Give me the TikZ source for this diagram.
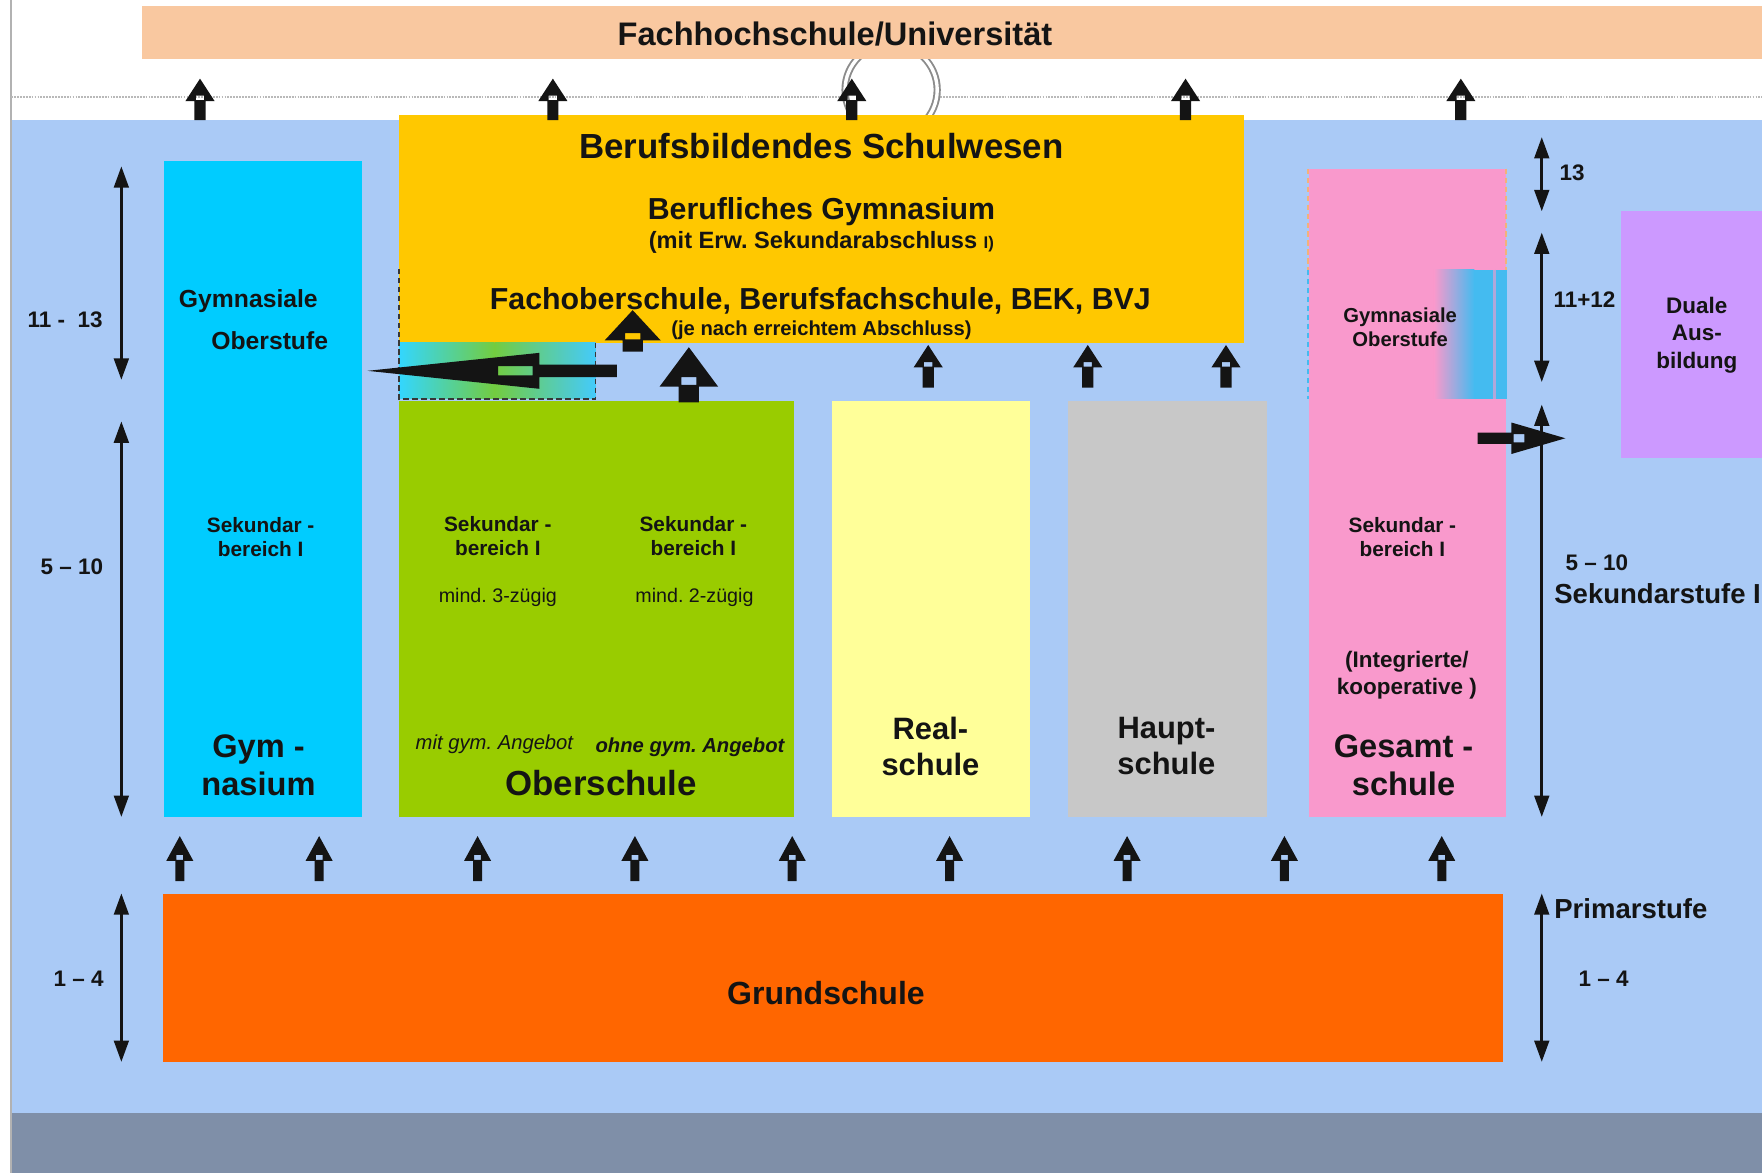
\documentclass[tikz,border=0pt]{standalone}
\usepackage{fontspec}
\setmainfont{Liberation Sans}
\usepackage{tikz}
\usetikzlibrary{arrows.meta, positioning, calc}
\frenchspacing
\definecolor{skyblue}{HTML}{AACAF6}
\definecolor{slateband}{HTML}{7F8FA8}
\definecolor{peach}{HTML}{F9C8A0}
\definecolor{bbsyellow}{HTML}{FFC800}
\definecolor{gymcyan}{HTML}{00CCFF}
\definecolor{obgreen}{HTML}{99CC00}
\definecolor{realyellow}{HTML}{FFFF99}
\definecolor{hauptgray}{HTML}{C8C8C8}
\definecolor{gspink}{HTML}{F999CC}
\definecolor{dualpurple}{HTML}{CC99FF}
\definecolor{grundorange}{HTML}{FF6600}
\definecolor{stripecyan}{HTML}{44BBF0}
\definecolor{dashorange}{HTML}{F2B27A}
\definecolor{inkblack}{HTML}{141414}

\begin{document}
\begin{tikzpicture}[
  x=1pt, y=-1pt,
  schoolbox/.style={rectangle, draw=none, fill=#1, inner sep=0pt, anchor=north west},
  txt/.style n args={2}{font=\fontsize{#1}{#2}\selectfont\bfseries, text=inkblack, inner sep=0pt, align=center},
  stufe/.style={{Triangle[width=13pt,length=19pt]}-{Triangle[width=13pt,length=19pt]}, line width=2.6pt, color=inkblack},
  pics/blkarrow/.style n args={4}{code={
    \fill[inkblack, even odd rule] (0,0) -- (#1,#2) -- (#3,#2) -- (#3,#4) -- (-#3,#4) -- (-#3,#2) -- (-#1,#2) -- cycle
      ({-0.75*#3},{0.76*#2}) rectangle ({0.75*#3},{0.96*#2});
  }}
]
  % Page, background and top strip
  \useasboundingbox (0,0) rectangle (1568,1044);
  \fill[white] (0,0) rectangle (1568,1044);
  \fill[skyblue] (10,107) rectangle (1568,990);
  \fill[slateband] (10,990) rectangle (1568,1044);
  \draw[gray!60, line width=1.5pt] (10,0) -- (10,1044);
  \draw[gray!55, densely dotted, line width=1.6pt] (10,86) -- (1568,86);
  \draw[gray!90, line width=1.7pt, double=white, double distance=3pt, fill=white] (793,80) circle (41pt);

  % School boxes
  \node[schoolbox=peach, minimum width=1442pt, minimum height=47pt] (uni) at (126,5) {};
  \node[schoolbox=bbsyellow, minimum width=752pt, minimum height=203pt] (bbs) at (355,102) {};
  \node[schoolbox=gymcyan, minimum width=176pt, minimum height=213pt] (gymober) at (146,143) {};
  \node[schoolbox=gymcyan, minimum width=176pt, minimum height=371pt] (gym) at (146,356) {};
  \node[schoolbox=obgreen, minimum width=351pt, minimum height=370pt] (ober) at (355,357) {};
  \node[schoolbox=realyellow, minimum width=176pt, minimum height=370pt] (real) at (740,357) {};
  \node[schoolbox=hauptgray, minimum width=177pt, minimum height=370pt] (haupt) at (950,357) {};
  \node[schoolbox=gspink, minimum width=175pt, minimum height=206pt] (gsober) at (1165,150) {};
  \node[schoolbox=gspink, minimum width=175pt, minimum height=371pt] (gesamt) at (1165,356) {};
  \node[schoolbox=dualpurple, minimum width=126pt, minimum height=219pt] (dual) at (1442,188) {};
  \node[schoolbox=grundorange, minimum width=1192pt, minimum height=150pt] (grund) at (145,795) {};

  % Transition zones
  \shade[left color=gymcyan!80!white, right color=obgreen!75!gymcyan] (355,305) rectangle (440,355);
  \shade[left color=obgreen!75!gymcyan, right color=gymcyan!60!skyblue] (440,305) rectangle (530,355);
  \draw[inkblack!85, dash pattern=on 5pt off 3pt, line width=1.3pt] (530,305) -- (530,355) -- (355,355) -- (355,237);
  \shade[left color=gspink, right color=stripecyan] (1276,240) rectangle (1312,355);
  \fill[stripecyan] (1312,240) rectangle (1341,355);
  \draw[gspink!60!stripecyan, line width=2pt] (1330,240) -- (1330,355);
  \draw[dashorange, dash pattern=on 5pt off 3pt, line width=1.5pt] (1164,150) -- (1164,240);
  \draw[stripecyan, dash pattern=on 5pt off 3pt, line width=1.5pt] (1164,240) -- (1164,355);
  \draw[dashorange, dash pattern=on 5pt off 3pt, line width=1.5pt] (1340,150) -- (1340,240);

  % Labels
  \node[txt={29}{31}] (unitxt) at (743,30) {Fachhochschule/Universität};
  \node[txt={31}{33}] (bbstxt) at (731,130) {Berufsbildendes Schulwesen};
  \node[txt={27}{29}] (bgymtxt) at (731,188) {Berufliches Gymnasium};
  \node[txt={21}{23}] (erwtxt) at (731,216) {(mit Erw. Sekundarabschluss {\fontsize{15}{15}\selectfont I)}};
  \node[txt={27}{29}] (fostxt) at (730,268) {Fachoberschule, Berufsfachschule, BEK, BVJ};
  \node[txt={18}{20}] (jetxt) at (731,294) {(je nach erreichtem Abschluss)};

  \node[txt={22}{24}] (gymo1) at (221,268) {Gymnasiale};
  \node[txt={22}{24}] (gymo2) at (240,303) {Oberstufe};
  \node[txt={18.5}{22}] (gymsek) at (232,478) {Sekundar -\\bereich I};
  \node[txt={29}{34}] (gymname) at (230,681) {Gym -\\nasium};

  \node[txt={18.5}{22}] (obsek1) at (443,477) {Sekundar -\\bereich I};
  \node[txt={18.5}{22}] (obsek2) at (617,477) {Sekundar -\\bereich I};
  \node[txt={17.5}{20}] (obmind1) at (443,532) {\mdseries mind. 3-zügig};
  \node[txt={17.5}{20}] (obmind2) at (618,532) {\mdseries mind. 2-zügig};
  \node[txt={18}{20}] (obmit) at (440,662) {\mdseries\itshape mit gym. Angebot};
  \node[txt={18}{20}] (obohne) at (614,665) {\itshape ohne gym. Angebot};
  \node[txt={31}{33}] (obname) at (535,697) {Oberschule};

  \node[txt={27.5}{32}] (realtxt) at (828,664) {Real-\\schule};
  \node[txt={27.5}{32}] (haupttxt) at (1038,664) {Haupt-\\schule};

  \node[txt={18}{21}] (gsobertxt) at (1246,291) {Gymnasiale\\Oberstufe};
  \node[txt={18.5}{22}] (gssek) at (1248,478) {Sekundar -\\bereich I};
  \node[txt={20}{24}] (gsart) at (1252,601) {(Integrierte/\\kooperative )};
  \node[txt={29}{34}] (gsname) at (1249,681) {Gesamt -\\schule};

  \node[txt={20}{24.5}] (dualtxt) at (1510,298) {Duale\\Aus-\\bildung};
  \node[txt={28.5}{30}] (grundtxt) at (735,884) {Grundschule};

  % Grade ranges
  \coordinate (la1) at (108,148);
  \coordinate (lb1) at (108,338);
  \coordinate (la2) at (108,375);
  \coordinate (lb2) at (108,727);
  \coordinate (la3) at (108,795);
  \coordinate (lb3) at (108,945);
  \coordinate (ra1) at (1372,122);
  \coordinate (rb1) at (1372,188);
  \coordinate (ra2) at (1372,207);
  \coordinate (rb2) at (1372,340);
  \coordinate (ra3) at (1372,360);
  \coordinate (rb3) at (1372,727);
  \coordinate (ra4) at (1372,795);
  \coordinate (rb4) at (1372,945);
  \draw[stufe] (la1) -- (lb1);
  \draw[stufe] (la2) -- (lb2);
  \draw[stufe] (la3) -- (lb3);
  \draw[stufe] (ra1) -- (rb1);
  \draw[stufe] (ra2) -- (rb2);
  \draw[stufe] (ra3) -- (rb3);
  \draw[stufe] (ra4) -- (rb4);

  \node[txt={20}{22}] (l13) at (58,285) {11 -\ \ 13};
  \node[txt={20}{22}] (l510) at (64,504) {5 – 10};
  \node[txt={20}{22}] (l14) at (70,871) {1 – 4};
  \node[txt={20}{22}] (r13) at (1399,154) {13};
  \node[txt={20}{22}] (r1112) at (1410,267) {11+12};
  \node[txt={20}{22}] (r510) at (1421,501) {5 – 10};
  \node[txt={24.5}{26}, anchor=west] (sek1) at (1383,528) {Sekundarstufe I};
  \node[txt={24.5}{26}, anchor=west] (prim) at (1383,809) {Primarstufe};
  \node[txt={20}{22}] (r14) at (1427,871) {1 – 4};

  % Transfer arrows to higher education
  \pic (up1) at (178,70) {blkarrow={13}{20}{5}{37}};
  \pic (up2) at (492,70) {blkarrow={13}{20}{5}{37}};
  \pic (up3) at (758,70) {blkarrow={13}{20}{5}{37}};
  \pic (up4) at (1055,70) {blkarrow={13}{20}{5}{37}};
  \pic (up5) at (1300,70) {blkarrow={13}{20}{5}{37}};

  % Transfer arrows into vocational schools
  \pic (bb1) at (563,276) {blkarrow={25}{27}{9}{37}};
  \pic (bb2) at (613,309) {blkarrow={26}{35}{9}{49}};
  \pic (bb3) at (826,307) {blkarrow={13}{20}{5}{38}};
  \pic (bb4) at (968,307) {blkarrow={13}{20}{5}{38}};
  \pic (bb5) at (1091,307) {blkarrow={13}{20}{5}{38}};
  \pic[rotate=90] (togym) at (327,330) {blkarrow={16}{153}{5.5}{222}};
  \pic[rotate=-90] (todual) at (1393,390) {blkarrow={14}{48}{5}{78}};

  % Transfer arrows from Grundschule
  \pic (gs1) at (160,744) {blkarrow={12}{22}{4}{40}};
  \pic (gs2) at (284,744) {blkarrow={12}{22}{4}{40}};
  \pic (gs3) at (425,744) {blkarrow={12}{22}{4}{40}};
  \pic (gs4) at (565,744) {blkarrow={12}{22}{4}{40}};
  \pic (gs5) at (705,744) {blkarrow={12}{22}{4}{40}};
  \pic (gs6) at (845,744) {blkarrow={12}{22}{4}{40}};
  \pic (gs7) at (1003,744) {blkarrow={12}{22}{4}{40}};
  \pic (gs8) at (1143,744) {blkarrow={12}{22}{4}{40}};
  \pic (gs9) at (1283,744) {blkarrow={12}{22}{4}{40}};
\end{tikzpicture}
\end{document}
